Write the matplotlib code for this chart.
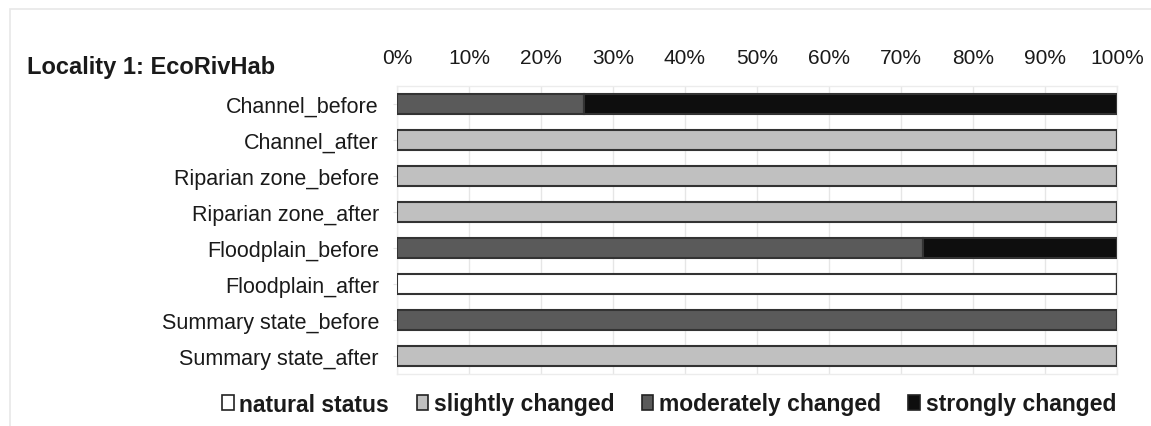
import matplotlib
matplotlib.use("Agg")
import matplotlib.pyplot as plt
from matplotlib.patches import Patch, Rectangle
from matplotlib.ticker import PercentFormatter, MultipleLocator

plt.rcParams["font.family"] = ["Liberation Sans", "DejaVu Sans"]

title = "Locality 1: EcoRivHab"
categories = [
    "Channel_before", "Channel_after",
    "Riparian zone_before", "Riparian zone_after",
    "Floodplain_before", "Floodplain_after",
    "Summary state_before", "Summary state_after",
]
status_labels = ["natural status", "slightly changed", "moderately changed", "strongly changed"]
status_colors = ["#ffffff", "#c0c0c0", "#5a5a5a", "#0e0e0e"]

# share of each status per category (%)
natural    = [0,   0,   0,   0,   0,   100, 0,   0]
slightly   = [0,   100, 100, 100, 0,   0,   0,   100]
moderately = [26,  0,   0,   0,   73,  0,   100, 0]
strongly   = [74,  0,   0,   0,   27,  0,   0,   0]
series = [natural, slightly, moderately, strongly]

W, H = 1151, 427
fig = plt.figure(figsize=(W / 100, H / 100), dpi=100)

# light outer frame
fig.patches.append(Rectangle((10 / W, -0.1), 1.2, 1 - 10 / H + 0.1,
                             transform=fig.transFigure, fill=False,
                             edgecolor="#e8e8e8", linewidth=1.2, zorder=0))

ax = fig.add_axes([397 / W, 1 - 375 / H, 720 / W, 288 / H])

ypos = list(range(len(categories)))
left = [0] * len(categories)
for vals, color in zip(series, status_colors):
    ax.barh(ypos, vals, left=left, height=0.54, color=color,
            edgecolor="#333333", linewidth=1.5, zorder=3)
    left = [l + v for l, v in zip(left, vals)]

ax.set_xlim(0, 100)
ax.set_ylim(len(categories) - 0.5, -0.5)
ax.set_yticks(ypos)
ax.set_yticklabels(categories, fontsize=15.5, color="#1a1a1a")
ax.xaxis.set_major_locator(MultipleLocator(10))
ax.xaxis.set_major_formatter(PercentFormatter(decimals=0))
ax.xaxis.tick_top()
ax.tick_params(axis="x", length=0, pad=14, labelsize=15, labelcolor="#1a1a1a")
ax.tick_params(axis="y", length=3, color="#e4e4e4", pad=10)
ax.grid(axis="x", color="#e6e6e6", linewidth=1.0, zorder=0)
for s in ax.spines.values():
    s.set_color("#ececec")
    s.set_linewidth(1.0)

fig.text(27 / W, 1 - 74 / H, title, fontsize=17, fontweight="bold",
         color="#1a1a1a", ha="left", va="baseline")

handles = [Patch(facecolor=c, edgecolor="#222222", linewidth=1.2) for c in status_colors]
fig.legend(handles, status_labels, loc="center", bbox_to_anchor=(669 / W, 1 - 405 / H),
           ncol=4, frameon=False, handlelength=0.5, handleheight=0.6,
           handletextpad=0.25, columnspacing=1.2,
           prop={"size": 16.5, "weight": "bold"}, labelcolor="#1a1a1a")

fig.savefig("out.png", dpi=100, facecolor="white")
